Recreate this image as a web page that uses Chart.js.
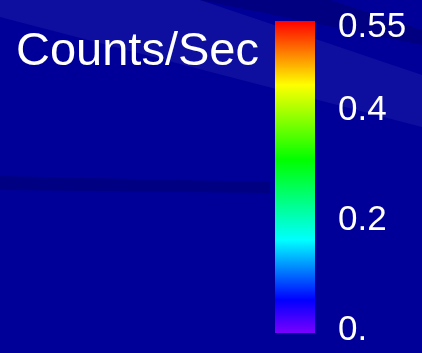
<!DOCTYPE html>
<html>
<head>
<meta charset="utf-8">
<script src="https://cdn.jsdelivr.net/npm/chart.js@4"></script>
<style>
  html, body { margin: 0; padding: 0; background: #000099; }
  canvas { display: block; }
</style>
</head>
<body>
<canvas id="cbar" width="422" height="353"></canvas>
<script>
// Données de l'échelle
const categories = ['Counts/Sec'];
const rangeMin = [0];
const rangeMax = [0.55];
const tickValues = [0, 0.2, 0.4, 0.55];
const tickLabels = ['0.', '0.2', '0.4', '0.55'];

// Palette (bas -> haut)
const cmapStops = [0, 0.106, 0.298, 0.554, 0.795, 1];
const cmapColors = ['#7a00ff', '#0000ff', '#00ffff', '#00ff00', '#ffff00', '#ff0000'];

// Fond : bleu foncé + bandes diagonales
const fondPlugin = {
  id: 'fond',
  beforeDraw(chart) {
    const c = chart.ctx;
    c.save();
    c.fillStyle = '#000099';
    c.fillRect(0, 0, chart.width, chart.height);
    // bande claire
    c.fillStyle = 'rgba(255,255,255,0.06)';
    c.beginPath();
    c.moveTo(0, 0); c.lineTo(200, 0); c.lineTo(422, 75); c.lineTo(422, 127); c.lineTo(0, 17);
    c.closePath(); c.fill();
    // bande sombre en haut
    c.fillStyle = 'rgba(0,0,40,0.22)';
    c.beginPath();
    c.moveTo(200, 0); c.lineTo(330, 0); c.lineTo(422, 30); c.lineTo(422, 45);
    c.closePath(); c.fill();
    // bande sombre horizontale
    c.fillStyle = 'rgba(0,0,40,0.2)';
    c.beginPath();
    c.moveTo(0, 176); c.lineTo(270, 182); c.lineTo(270, 193); c.lineTo(0, 190);
    c.closePath(); c.fill();
    c.restore();
  }
};

// Titre "Counts/Sec"
const titrePlugin = {
  id: 'titre',
  afterDraw(chart) {
    const c = chart.ctx;
    c.save();
    c.fillStyle = '#ffffff';
    c.font = '47px "Liberation Sans", Arial, sans-serif';
    c.textBaseline = 'alphabetic';
    c.textAlign = 'left';
    c.fillText(categories[0], 16, 65);
    c.restore();
  }
};

function gradient(ctx) {
  const area = ctx.chart.chartArea;
  if (!area) return cmapColors[0];
  const g = ctx.chart.ctx.createLinearGradient(0, area.bottom, 0, area.top);
  cmapStops.forEach((s, i) => g.addColorStop(s, cmapColors[i]));
  return g;
}

new Chart(document.getElementById('cbar'), {
  type: 'bar',
  data: {
    labels: categories,
    datasets: [{
      data: categories.map((_, i) => [rangeMin[i], rangeMax[i]]),
      yAxisID: 'yBar',
      backgroundColor: gradient,
      borderWidth: 0,
      barPercentage: 1,
      categoryPercentage: 1
    }]
  },
  options: {
    responsive: false,
    animation: false,
    layout: { padding: { left: 275, top: 21, bottom: 20, right: 0 } },
    scales: {
      x: { display: false },
      // échelle de la barre
      yBar: {
        display: false,
        min: 0,
        max: 0.55
      },
      // échelle des étiquettes
      y: {
        position: 'right',
        min: -0.004,
        max: 0.562,
        grid: { display: false },
        border: { display: false },
        afterBuildTicks(axis) {
          axis.ticks = tickValues.map(v => ({ value: v }));
        },
        afterFit(axis) {
          axis.width = 107;
          axis.paddingTop = 0;
          axis.paddingBottom = 0;
        },
        ticks: {
          color: '#ffffff',
          padding: 15,
          font: { family: '"Liberation Sans", Arial, sans-serif', size: 35 },
          callback: (v) => tickLabels[tickValues.indexOf(v)]
        }
      }
    },
    plugins: {
      legend: { display: false },
      tooltip: { enabled: false }
    }
  },
  plugins: [fondPlugin, titrePlugin]
});
</script>
</body>
</html>
